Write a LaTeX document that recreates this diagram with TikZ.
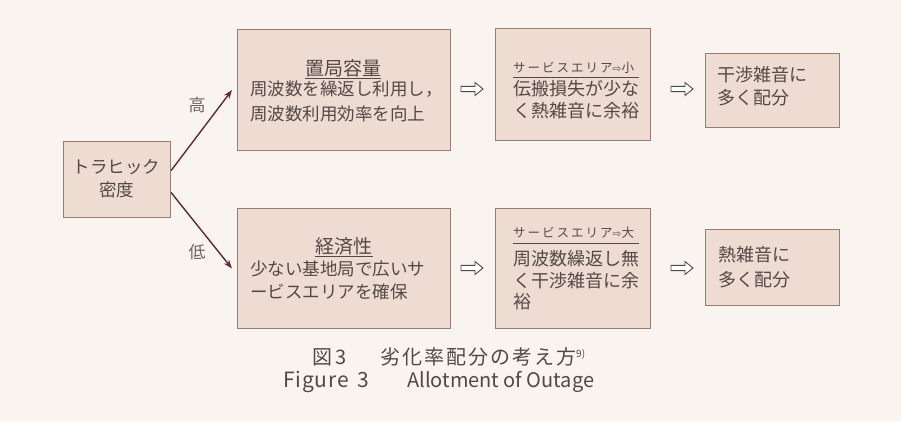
\documentclass[tikz,border=0pt]{standalone}
\usepackage{fontspec}
\setmainfont{Noto Sans CJK JP}
\newfontfamily\dejavu{DejaVu Sans}
\newfontfamily\capfont[LetterSpace=10]{Noto Sans CJK JP}
\newfontfamily\smallfont[LetterSpace=16]{Noto Sans CJK JP}
\newfontfamily\figfont[LetterSpace=4]{Noto Sans CJK JP}
\usetikzlibrary{calc,arrows.meta}
\definecolor{bg}{RGB}{250,244,240}
\definecolor{boxfill}{RGB}{238,220,210}
\definecolor{boxline}{RGB}{150,126,116}
\definecolor{txt}{RGB}{84,72,70}
\definecolor{arr}{RGB}{95,42,50}
\tikzset{
  box/.style={draw=boxline, fill=boxfill, line width=1.1pt, inner sep=0pt, anchor=north west},
  body/.style={text=txt, inner sep=0pt, anchor=west, font=\fontsize{17.5}{20}\selectfont},
  bodyB/.style={text=txt, inner sep=0pt, anchor=west, font=\fontsize{18}{20}\selectfont},
  hdr/.style={text=txt, inner sep=0pt, font=\fontsize{19}{21}\selectfont},
  small/.style={text=txt, inner sep=0pt, anchor=west, font=\smallfont\fontsize{12.5}{15}\selectfont},
  rulel/.style={draw=txt, line width=0.9pt},
  lab/.style={text=txt!85!white, inner sep=0pt, font=\fontsize{17}{19}\selectfont},
  diag/.style={draw=arr, line width=1.4pt, -{Stealth[length=9pt,width=6.5pt]}},
  captext/.style={text=txt, inner sep=0pt, anchor=west, font=\fontsize{20}{22}\selectfont},
  hollow/.pic={\draw[draw=txt, fill=white, line width=0.9pt, line join=miter]
    (-11,-2.6) -- (3,-2.6) -- (3,-6.5) -- (11,0) -- (3,6.5) -- (3,2.6) -- (-11,2.6) -- cycle;}
}
\begin{document}
\begin{tikzpicture}[x=1pt,y=-1pt]
\path[fill=bg] (0,0) rectangle (901,421);
\useasboundingbox (0,0) rectangle (901,421);

% boxes
\node[box, minimum width=107pt, minimum height=76pt] (traffic) at (63,141) {};
\node[box, minimum width=213pt, minimum height=121pt] (A1) at (237,29) {};
\node[box, minimum width=213pt, minimum height=120pt] (A2) at (237,208) {};
\node[box, minimum width=155pt, minimum height=112pt] (B1) at (495,28) {};
\node[box, minimum width=155pt, minimum height=120pt] (B2) at (495,208) {};
\node[box, minimum width=134pt, minimum height=74pt] (C1) at (705,53) {};
\node[box, minimum width=134pt, minimum height=76pt] (C2) at (705,229) {};

% traffic text
\node[body, anchor=center] (t1) at (116.5,167) {トラヒック};
\node[body, anchor=center] (t2) at (116.5,190) {密度};

% A1
\node[hdr] (a1h) at (343,68) {置局容量};
\draw[rulel] ($(a1h.south west)+(0,1)$) -- ($(a1h.south east)+(0,1)$);
\node[body] (a1l1) at (250,89) {周波数を繰返し利用し，};
\node[body] (a1l2) at (250,114) {周波数利用効率を向上};

% A2
\node[hdr] (a2h) at (344,246) {経済性};
\draw[rulel] ($(a2h.south west)+(0,1)$) -- ($(a2h.south east)+(0,1)$);
\node[body] (a2l1) at (250,269) {少ない基地局で広いサ};
\node[body] (a2l2) at (250,292) {ービスエリアを確保};

% B1
\node[small] (b1h) at (513,68) {サービスエリア{\dejavu\fontsize{10.5}{13}\selectfont ⇨}小};
\coordinate (b1r1) at (513,77);
\coordinate (b1r2) at (639,77);
\draw[rulel] (b1r1) -- (b1r2);
\node[bodyB] (b1l1) at (513,89) {伝搬損失が少な};
\node[bodyB] (b1l2) at (513,111) {く熱雑音に余裕};

% B2
\node[small] (b2h) at (513,233) {サービスエリア{\dejavu\fontsize{10.5}{13}\selectfont ⇨}大};
\coordinate (b2r1) at (513,243);
\coordinate (b2r2) at (639,243);
\draw[rulel] (b2r1) -- (b2r2);
\node[bodyB] (b2l1) at (513,259) {周波数繰返し無};
\node[bodyB] (b2l2) at (513,281) {く干渉雑音に余};
\node[bodyB] (b2l3) at (513,302) {裕};

% C1, C2
\node[bodyB] (c1l1) at (717,75) {干渉雑音に};
\node[bodyB] (c1l2) at (717,98) {多く配分};
\node[bodyB] (c2l1) at (718,255) {熱雑音に};
\node[bodyB] (c2l2) at (718,280) {多く配分};

% diagonal arrows
\draw[diag] ($(traffic.east)+(0,-9)$) -- ($(A1.west)+(-5,0)$);
\draw[diag] ($(traffic.east)+(0,13)$) -- ($(A2.west)+(-5,0)$);
\node[lab] (hi) at (197,105) {高};
\node[lab] (lo) at (197,252) {低};

% hollow arrows
\pic at (472,89) {hollow};
\pic at (682,89) {hollow};
\pic at (472,268) {hollow};
\pic at (682,268) {hollow};

% caption
\node[captext] (cap1a) at (312,357) {図\,3};
\node[captext] (cap1b) at (380,357)
  {{\capfont 劣化率配分の考え方}\raisebox{7pt}{\fontsize{10}{12}\selectfont 9)}};
\node[captext] (cap2a) at (283,382) {\figfont\fontsize{21}{23}\selectfont Figure\hspace{3pt} 3};
\node[captext] (cap2b) at (407,382) {Allotment of Outage};
\end{tikzpicture}
\end{document}
